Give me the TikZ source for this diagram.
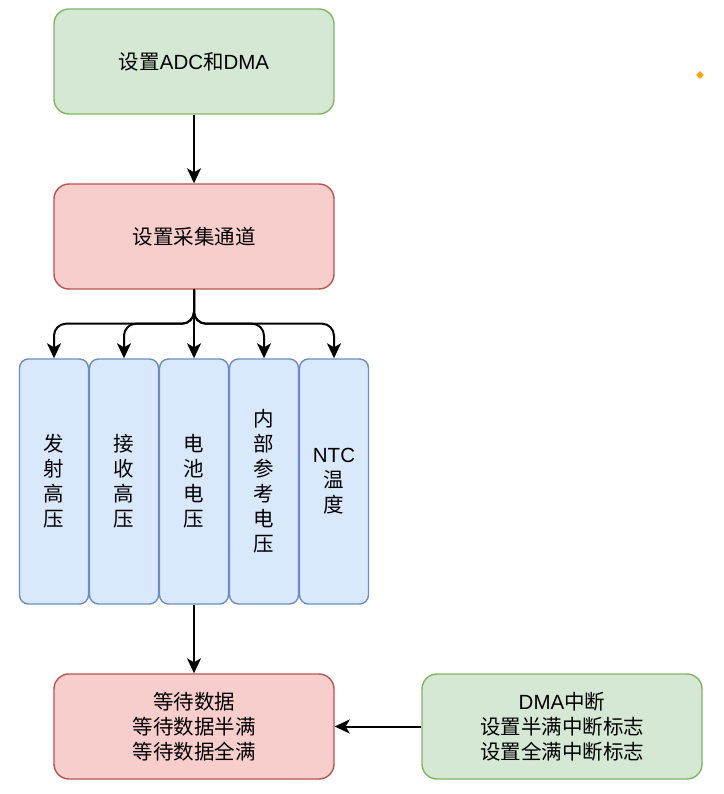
\documentclass[tikz,border=0pt]{standalone}
\usepackage{fontspec}
\setmainfont{Noto Sans CJK SC}
\newfontfamily\lat{Liberation Sans}
\usetikzlibrary{arrows.meta,shapes.geometric}
\definecolor{gfill}{HTML}{D5E8D4}
\definecolor{gdraw}{HTML}{82B366}
\definecolor{rfill}{HTML}{F8CECC}
\definecolor{rdraw}{HTML}{B85450}
\definecolor{bfill}{HTML}{DAE8FC}
\definecolor{bdraw}{HTML}{6C8EBF}
\definecolor{dotc}{HTML}{FFA500}
\tikzset{
  txt/.style={align=center, font=\fontsize{20.5}{25}\selectfont, text=black},
  box/.style={txt, rectangle, rounded corners=15pt, minimum width=280pt, minimum height=105pt, line width=1.4pt, inner sep=0pt},
  gbox/.style={box, fill=gfill, draw=gdraw},
  rbox/.style={box, fill=rfill, draw=rdraw},
  col/.style={txt, rectangle, rounded corners=9pt, minimum width=69pt, minimum height=245pt, fill=bfill, draw=bdraw, line width=1.4pt, inner sep=0pt},
  arr/.style={line width=2pt, -{Stealth[length=15pt,width=14pt,inset=4pt]}},
}
\begin{document}
\begin{tikzpicture}[x=1pt,y=-1pt]
\useasboundingbox (0,0) rectangle (723,794);
\node[gbox] (setup) at (194,61.5) {设置{\lat ADC}和{\lat DMA}};
\node[rbox] (chan) at (194,236.5) {设置采集通道};
\node[col] (c1) at (54,481.5) {发\\射\\高\\压};
\node[col] (c2) at (124,481.5) {接\\收\\高\\压};
\node[col] (c3) at (194,481.5) {电\\池\\电\\压};
\node[col] (c4) at (264,481.5) {内\\部\\参\\考\\电\\压};
\node[col] (c5) at (334,481.5) {{\lat NTC}\\温\\度};
\node[rbox] (wait) at (194,726.5) {等待数据\\等待数据半满\\等待数据全满};
\node[gbox] (dma) at (562,726.5) {{\lat DMA}中断\\设置半满中断标志\\设置全满中断标志};
\node[diamond, fill=dotc, minimum size=8pt, inner sep=0pt] (dot) at (700,75) {};
\draw[arr] (setup.south) -- (chan.north);
\draw[arr] (chan.south) -- (c3.north);
\draw[arr, rounded corners=12pt] (chan.south) -- ++(0,34) -| (c1.north);
\draw[arr, rounded corners=12pt] (chan.south) -- ++(0,34) -| (c2.north);
\draw[arr, rounded corners=12pt] (chan.south) -- ++(0,34) -| (c4.north);
\draw[arr, rounded corners=12pt] (chan.south) -- ++(0,34) -| (c5.north);
\draw[arr] (c3.south) -- (wait.north);
\draw[arr] (dma.west) -- (wait.east);
\end{tikzpicture}
\end{document}
